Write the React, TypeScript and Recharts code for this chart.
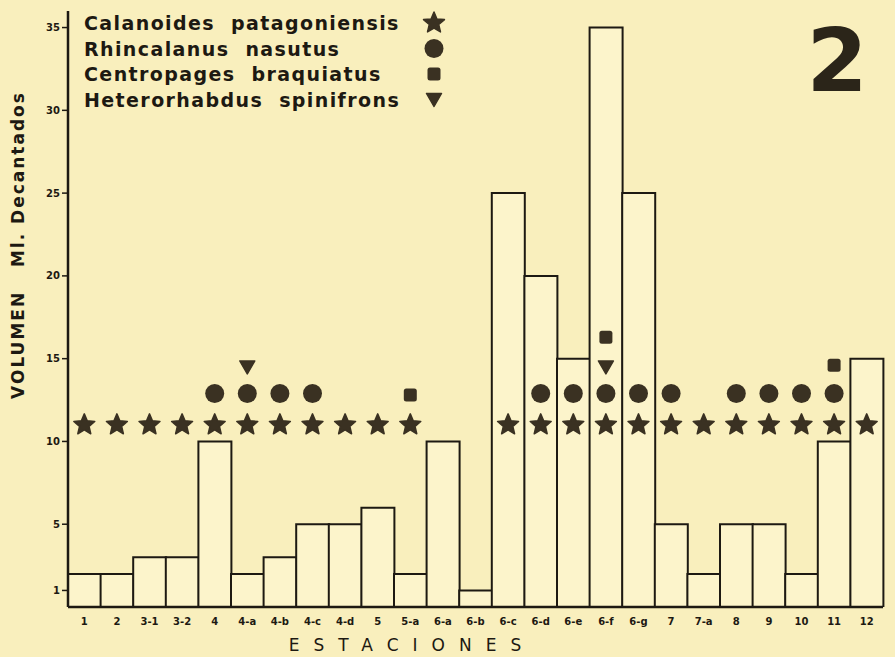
import React from "react";
import { ComposedChart, Bar, Scatter, XAxis, YAxis } from "recharts";

const stations = [
  "1", "2", "3-1", "3-2", "4", "4-a", "4-b", "4-c", "4-d", "5", "5-a", "6-a", "6-b",
  "6-c", "6-d", "6-e", "6-f", "6-g", "7", "7-a", "8", "9", "10", "11", "12",
];
const volume = [2, 2, 3, 3, 10, 2, 3, 5, 5, 6, 2, 10, 1, 25, 20, 15, 35, 25, 5, 2, 5, 5, 2, 10, 15];

// species marks, null = absent at that station
const calanoides = [11, 11, 11, 11, 11, 11, 11, 11, 11, 11, 11, null, null, 11, 11, 11, 11, 11, 11, 11, 11, 11, 11, 11, 11];
const rhincalanus = [null, null, null, null, 12.9, 12.9, 12.9, 12.9, null, null, null, null, null, null, 12.9, 12.9, 12.9, 12.9, 12.9, null, 12.9, 12.9, 12.9, 12.9, null];
const centropages = [null, null, null, null, null, null, null, null, null, null, 12.8, null, null, null, null, null, 16.3, null, null, null, null, null, null, 14.6, null];
const heterorhabdus = [null, null, null, null, null, 14.5, null, null, null, null, null, null, null, null, null, null, 14.5, null, null, null, null, null, null, null, null];

const yTicks = [1, 5, 10, 15, 20, 25, 30, 35];

const species = [
  "Calanoides  patagoniensis",
  "Rhincalanus  nasutus",
  "Centropages  braquiatus",
  "Heterorhabdus  spinifrons",
];

const data = stations.map((station, i) => ({
  station,
  volume: volume[i],
  calanoides: calanoides[i],
  rhincalanus: rhincalanus[i],
  centropages: centropages[i],
  heterorhabdus: heterorhabdus[i],
}));

const BG = "#f9efbd";
const INK = "#1d1912";
const MARK = "#3a3122";

function starPoints(cx: number, cy: number, ro: number, ri: number) {
  const pts: string[] = [];
  for (let k = 0; k < 10; k++) {
    const r = k % 2 === 0 ? ro : ri;
    const a = -Math.PI / 2 + (k * Math.PI) / 5;
    pts.push(`${cx + r * Math.cos(a)},${cy + r * Math.sin(a)}`);
  }
  return pts.join(" ");
}

const Star = ({ cx, cy }: { cx: number; cy: number }) => (
  <polygon points={starPoints(cx, cy, 11, 5)} fill={MARK} stroke={MARK} strokeWidth={1.5} strokeLinejoin="round" />
);
const Dot = ({ cx, cy }: { cx: number; cy: number }) => <circle cx={cx} cy={cy} r={9.5} fill={MARK} />;
const Sq = ({ cx, cy }: { cx: number; cy: number }) => (
  <rect x={cx - 6.5} y={cy - 6.5} width={13} height={13} rx={2.5} fill={MARK} />
);
const Tri = ({ cx, cy }: { cx: number; cy: number }) => (
  <polygon
    points={`${cx - 7.5},${cy - 6} ${cx + 7.5},${cy - 6} ${cx},${cy + 7}`}
    fill={MARK}
    stroke={MARK}
    strokeWidth={1.5}
    strokeLinejoin="round"
  />
);

const shapeFor = (key: string, Comp: any) => (props: any) => {
  if (props.payload == null || props.payload[key] == null || props.cy == null || isNaN(props.cy)) return <g />;
  return <Comp cx={props.cx} cy={props.cy} />;
};

const tickFont = { fontFamily: "DejaVu Sans", fontWeight: 700, fontSize: 10, fill: INK };
const legendMarks = [Star, Dot, Sq, Tri];

export default function App() {
  return (
    <div style={{ position: "absolute", left: 0, top: 0, width: 895, height: 657, background: BG }}>
      <ComposedChart
        width={895}
        height={657}
        data={data}
        margin={{ top: 11, right: 12, bottom: 0, left: 0 }}
        barCategoryGap={0}
        barGap={0}
      >
        <XAxis
          dataKey="station"
          interval={0}
          tickLine={false}
          axisLine={{ stroke: INK, strokeWidth: 2.5 }}
          tick={tickFont}
          tickMargin={5}
          height={50}
        />
        <YAxis
          type="number"
          domain={[0, 36]}
          ticks={yTicks}
          allowDataOverflow
          width={68}
          tickSize={6}
          tickLine={{ stroke: INK, strokeWidth: 1.5 }}
          axisLine={{ stroke: INK, strokeWidth: 2.5 }}
          tick={tickFont}
          tickMargin={2}
        />
        <Bar dataKey="volume" fill="#fcf4cb" stroke={INK} strokeWidth={2} isAnimationActive={false} />
        <Scatter dataKey="calanoides" shape={shapeFor("calanoides", Star)} isAnimationActive={false} />
        <Scatter dataKey="rhincalanus" shape={shapeFor("rhincalanus", Dot)} isAnimationActive={false} />
        <Scatter dataKey="centropages" shape={shapeFor("centropages", Sq)} isAnimationActive={false} />
        <Scatter dataKey="heterorhabdus" shape={shapeFor("heterorhabdus", Tri)} isAnimationActive={false} />
      </ComposedChart>
      <svg
        width={895}
        height={657}
        style={{ position: "absolute", left: 0, top: 0, pointerEvents: "none" }}
      >
        {species.map((name, i) => {
          const y = 23 + i * 25.5;
          const M = legendMarks[i];
          return (
            <g key={name}>
              <text
                x={84}
                y={y}
                dominantBaseline="central"
                fontFamily="DejaVu Sans"
                fontWeight={700}
                fontSize={19}
                letterSpacing={1.4}
                fill={INK}
                style={{ whiteSpace: "pre" }}
              >
                {name}
              </text>
              <M cx={434} cy={y} />
            </g>
          );
        })}
        <text x={837} y={91} textAnchor="middle" fontFamily="DejaVu Sans" fontWeight={700} fontSize={88} fill="#2b2519">
          2
        </text>
        <text
          transform="translate(24,245) rotate(-90)"
          textAnchor="middle"
          fontFamily="DejaVu Sans"
          fontWeight={700}
          fontSize={17}
          letterSpacing={2}
          fill={INK}
          style={{ whiteSpace: "pre" }}
        >
          {"VOLUMEN   Ml. Decantados"}
        </text>
        <text
          x={412}
          y={651}
          textAnchor="middle"
          fontFamily="DejaVu Sans"
          fontSize={17}
          letterSpacing={14}
          fill={INK}
        >
          ESTACIONES
        </text>
      </svg>
    </div>
  );
}
